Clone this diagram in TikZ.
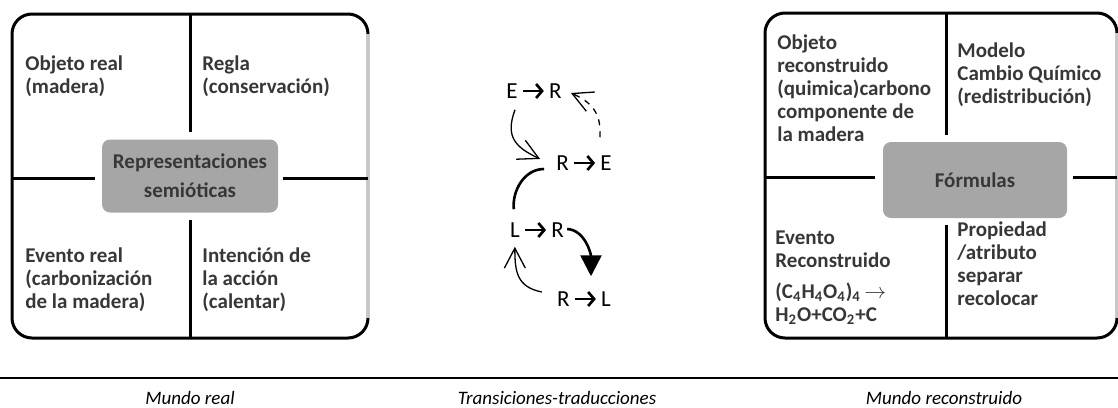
\documentclass[tikz,border=0pt]{standalone}
\usepackage{fontspec}
\setmainfont{Carlito}
\usetikzlibrary{arrows.meta,positioning,calc}
\definecolor{RSfill}{RGB}{166,166,166}
\definecolor{RSedge}{RGB}{200,200,200}
\definecolor{RSink}{RGB}{55,55,55}
\newcommand\cellfont{\fontsize{10.5pt}{11.5pt}\selectfont\bfseries}
\newsavebox\trarrow
\sbox\trarrow{\tikz[baseline=-3.5pt]\draw[line width=1.35pt,-{Straight Barb[length=3pt,width=7pt]}] (0,0)--(10.5pt,0);}
\tikzset{
  frame/.style={line width=1.5pt,rounded corners=10pt},
  split/.style={line width=1.5pt},
  core/.style={rounded corners=4pt,fill=RSfill,text=RSink,align=center,font=\cellfont,inner sep=0pt},
  cell/.style={anchor=north west,inner sep=0pt,align=left,text=RSink,font=\cellfont},
  tr/.style={anchor=base,inner sep=0pt,font=\fontsize{11.5pt}{13pt}\selectfont},
  barb/.style={-{Straight Barb[length=10pt,width=10.5pt]},line width=0.65pt},
  heavy/.style={line width=1.3pt},
  world/.style={anchor=base,font=\fontsize{9.5pt}{11pt}\selectfont\itshape}
}

\begin{document}
\begin{tikzpicture}[x=0.5pt,y=-0.5pt]
  \useasboundingbox (0,0) rectangle (1118,407);
  % mundo real
  \draw[frame] (12,14) rectangle (368,338);
  \draw[RSedge,line width=1.75pt] (368,34) -- (368,318);
  \node[core,minimum width=88pt,minimum height=36.5pt] (rep) at (190,176) {Representaciones\\[3pt]semióticas};
  \draw[split] (190,14) -- ([shift={(0,-7)}]rep.north);
  \draw[split] ([shift={(0,7)}]rep.south) -- (190,338);
  \draw[split] (12,178) -- ([shift={(-7,2)}]rep.west);
  \draw[split] ([shift={(5,2)}]rep.east) -- (368,178);
  \node[cell] (objreal) at (25,55) {Objeto real\\(madera)};
  \node[cell] (regla) at (202,55) {Regla\\(conservación)};
  \node[cell] (evreal) at (25,247) {Evento real\\(carbonización\\de la madera)};
  \node[cell] (intencion) at (202,247) {Intención de\\la acción\\(calentar)};
  % transiciones
  \node[tr] (er) at (534,98) {E\,\usebox\trarrow\,R};
  \node[tr] (re) at (584,170) {R\,\usebox\trarrow\,E};
  \node[tr] (lr) at (537,237) {L\,\usebox\trarrow\,R};
  \node[tr] (rl) at (584,306) {R\,\usebox\trarrow\,L};
  \draw[barb] ([shift={(-19,10)}]er.south) .. controls +(-10,27) and +(-25,-12) .. ([shift={(-16,-4)}]re.west);
  \draw[barb,dashed] ([shift={(-12,-17)}]re.north east) .. controls +(1,-20) and +(25,11) .. ([shift={(9,2)}]er.east);
  \draw[heavy] ([shift={(-12,6)}]re.west) .. controls +(-20,0) and +(-2,-18) .. ([shift={(4,-12)}]lr.north west);
  \draw[heavy,-{Triangle[length=10.5pt,width=10.5pt]}] ([shift={(3,-1)}]lr.east) .. controls +(18,1) and +(0,-22) .. ([shift={(7,-14)}]rl.north);
  \draw[barb] ([shift={(-15,-7)}]rl.west) .. controls +(-25,-5) and +(0,25) .. ([shift={(5,8)}]lr.south west);
  % mundo reconstruido
  \draw[frame] (765,13) rectangle (1117,338);
  \draw[RSedge,line width=1.75pt] (1117,33) -- (1117,318);
  \node[cell] (objrec) at (777,34) {Objeto\\reconstruido\\(quimica)carbono\\componente de\\la madera};
  \node[cell] (modelo) at (957,42) {Modelo\\Cambio Químico\\(redistribución)};
  \node[cell] (evrec) at (775,230) {Evento\\Reconstruido\\[4pt](C\textsubscript{4}H\textsubscript{4}O\textsubscript{4})\textsubscript{4}\,$\rightarrow$\\H\textsubscript{2}O+CO\textsubscript{2}+C};
  \node[cell] (prop) at (957,221) {Propiedad\\/atributo\\separar\\recolocar};
  \node[core,minimum width=92pt,minimum height=38pt] (form) at (975,180) {Fórmulas};
  \draw[split] (946,13) -- ([shift={(-29,-7)}]form.north);
  \draw[split] ([shift={(-29,7)}]form.south) -- (946,338);
  \draw[split] (765,177) -- ([shift={(-8,-3)}]form.west);
  \draw[split] ([shift={(6,-3)}]form.east) -- (1117,177);
  % pie
  \draw[line width=1pt] (0,378) -- (1118,378);
  \node[world] (mreal) at (190,404) {Mundo real};
  \node[world] (trans) at (557,404) {Transiciones-traducciones};
  \node[world] (mrec) at (944,404) {Mundo reconstruido};
\end{tikzpicture}
\end{document}
